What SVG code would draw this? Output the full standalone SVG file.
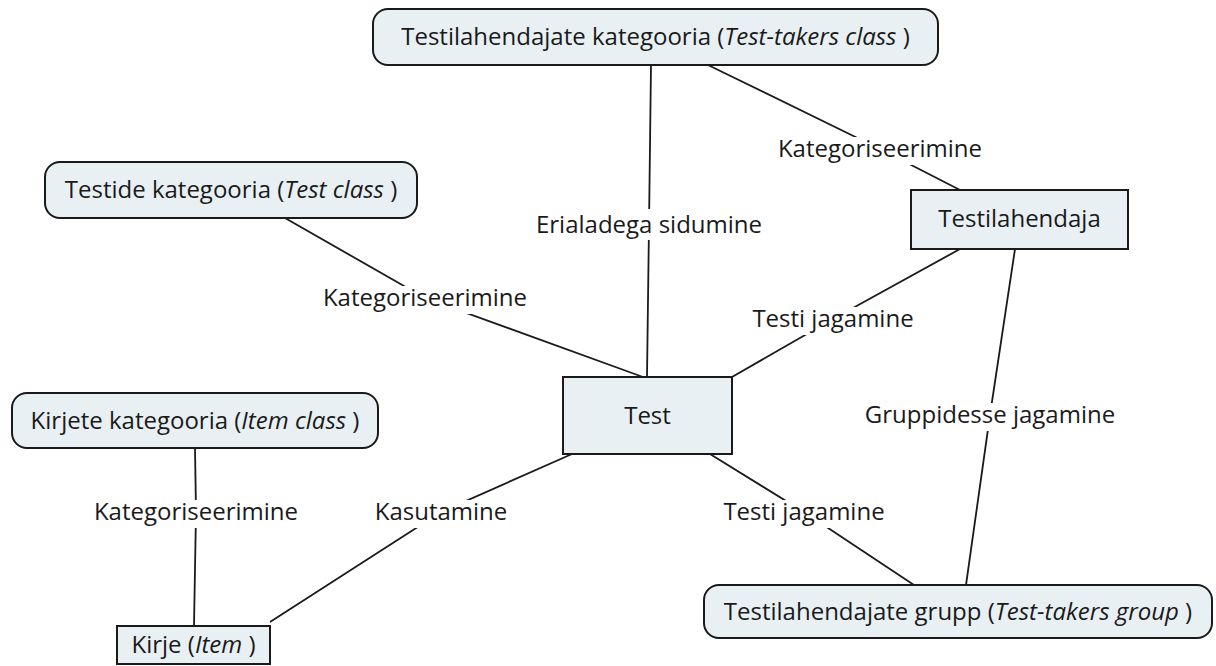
<svg xmlns="http://www.w3.org/2000/svg" width="1216" height="666" viewBox="0 0 1216 666">
<style>
.node{fill:#E9F0F4;stroke:#1a1a1a;stroke-width:2}
.t{font-family:"Open Sans","Noto Sans","DejaVu Sans",sans-serif;font-size:24px;fill:#1a1a1a;text-anchor:middle}
.i{font-style:italic}
.ln{fill:none;stroke:#1a1a1a;stroke-width:1.8}
.lb{fill:#ffffff;stroke:none}
</style>
<rect width="1216" height="666" fill="#ffffff"/>
<g id="connectors">
<polyline class="ln" points="708,65 880,149 960,190"/>
<polyline class="ln" points="651,65 649,225 647,377"/>
<polyline class="ln" points="285,218 425,298 643,377"/>
<polyline class="ln" points="960,249 833,319 732,377"/>
<polyline class="ln" points="1015,249 990,415 966,585"/>
<polyline class="ln" points="195,448 196,512 194,626"/>
<polyline class="ln" points="572,454 441,512 270,622"/>
<polyline class="ln" points="710,454 804,512 914,585"/>
</g>
<g id="labels">
<g id="lbl-kat1"><rect class="lb" x="776" y="137" width="208" height="28"/><text class="t" x="880" y="157">Kategoriseerimine</text></g>
<g id="lbl-eriala"><rect class="lb" x="535" y="209" width="228" height="31"/><text class="t" x="649" y="233">Erialadega sidumine</text></g>
<g id="lbl-kat2"><rect class="lb" x="321" y="286" width="208" height="28"/><text class="t" x="425" y="306">Kategoriseerimine</text></g>
<g id="lbl-jag1"><rect class="lb" x="751" y="307" width="164" height="28"/><text class="t" x="833" y="327">Testi jagamine</text></g>
<g id="lbl-grupp"><rect class="lb" x="866" y="403" width="248" height="28"/><text class="t" x="990" y="423">Gruppidesse jagamine</text></g>
<g id="lbl-kat3"><rect class="lb" x="92" y="500" width="208" height="28"/><text class="t" x="196" y="520">Kategoriseerimine</text></g>
<g id="lbl-kasut"><rect class="lb" x="378" y="500" width="126" height="28"/><text class="t" x="441" y="520">Kasutamine</text></g>
<g id="lbl-jag2"><rect class="lb" x="722" y="500" width="164" height="28"/><text class="t" x="804" y="520">Testi jagamine</text></g>
</g>
<g id="node-testtakers-class">
<rect class="node" x="373" y="9" width="565" height="56" rx="15"/>
<text class="t" x="655.5" y="45">Testilahendajate kategooria (<tspan class="i">Test-takers class</tspan> )</text>
</g>
<g id="node-test-class">
<rect class="node" x="45" y="162" width="372" height="56" rx="15"/>
<text class="t" x="231" y="198">Testide kategooria (<tspan class="i">Test class</tspan> )</text>
</g>
<g id="node-testilahendaja">
<rect class="node" x="911" y="190" width="217" height="59"/>
<text class="t" x="1019.5" y="227">Testilahendaja</text>
</g>
<g id="node-test">
<rect class="node" x="563" y="377" width="169" height="77"/>
<text class="t" x="647.5" y="424">Test</text>
</g>
<g id="node-item-class">
<rect class="node" x="12" y="393" width="366" height="55" rx="15"/>
<text class="t" x="195" y="429">Kirjete kategooria (<tspan class="i">Item class</tspan> )</text>
</g>
<g id="node-kirje">
<rect class="node" x="117" y="626" width="153" height="38"/>
<text class="t" x="193.5" y="653">Kirje (<tspan class="i">Item</tspan> )</text>
</g>
<g id="node-group">
<rect class="node" x="704" y="585" width="508" height="53" rx="15"/>
<text class="t" x="958" y="620">Testilahendajate grupp (<tspan class="i">Test-takers group</tspan> )</text>
</g>
</svg>
